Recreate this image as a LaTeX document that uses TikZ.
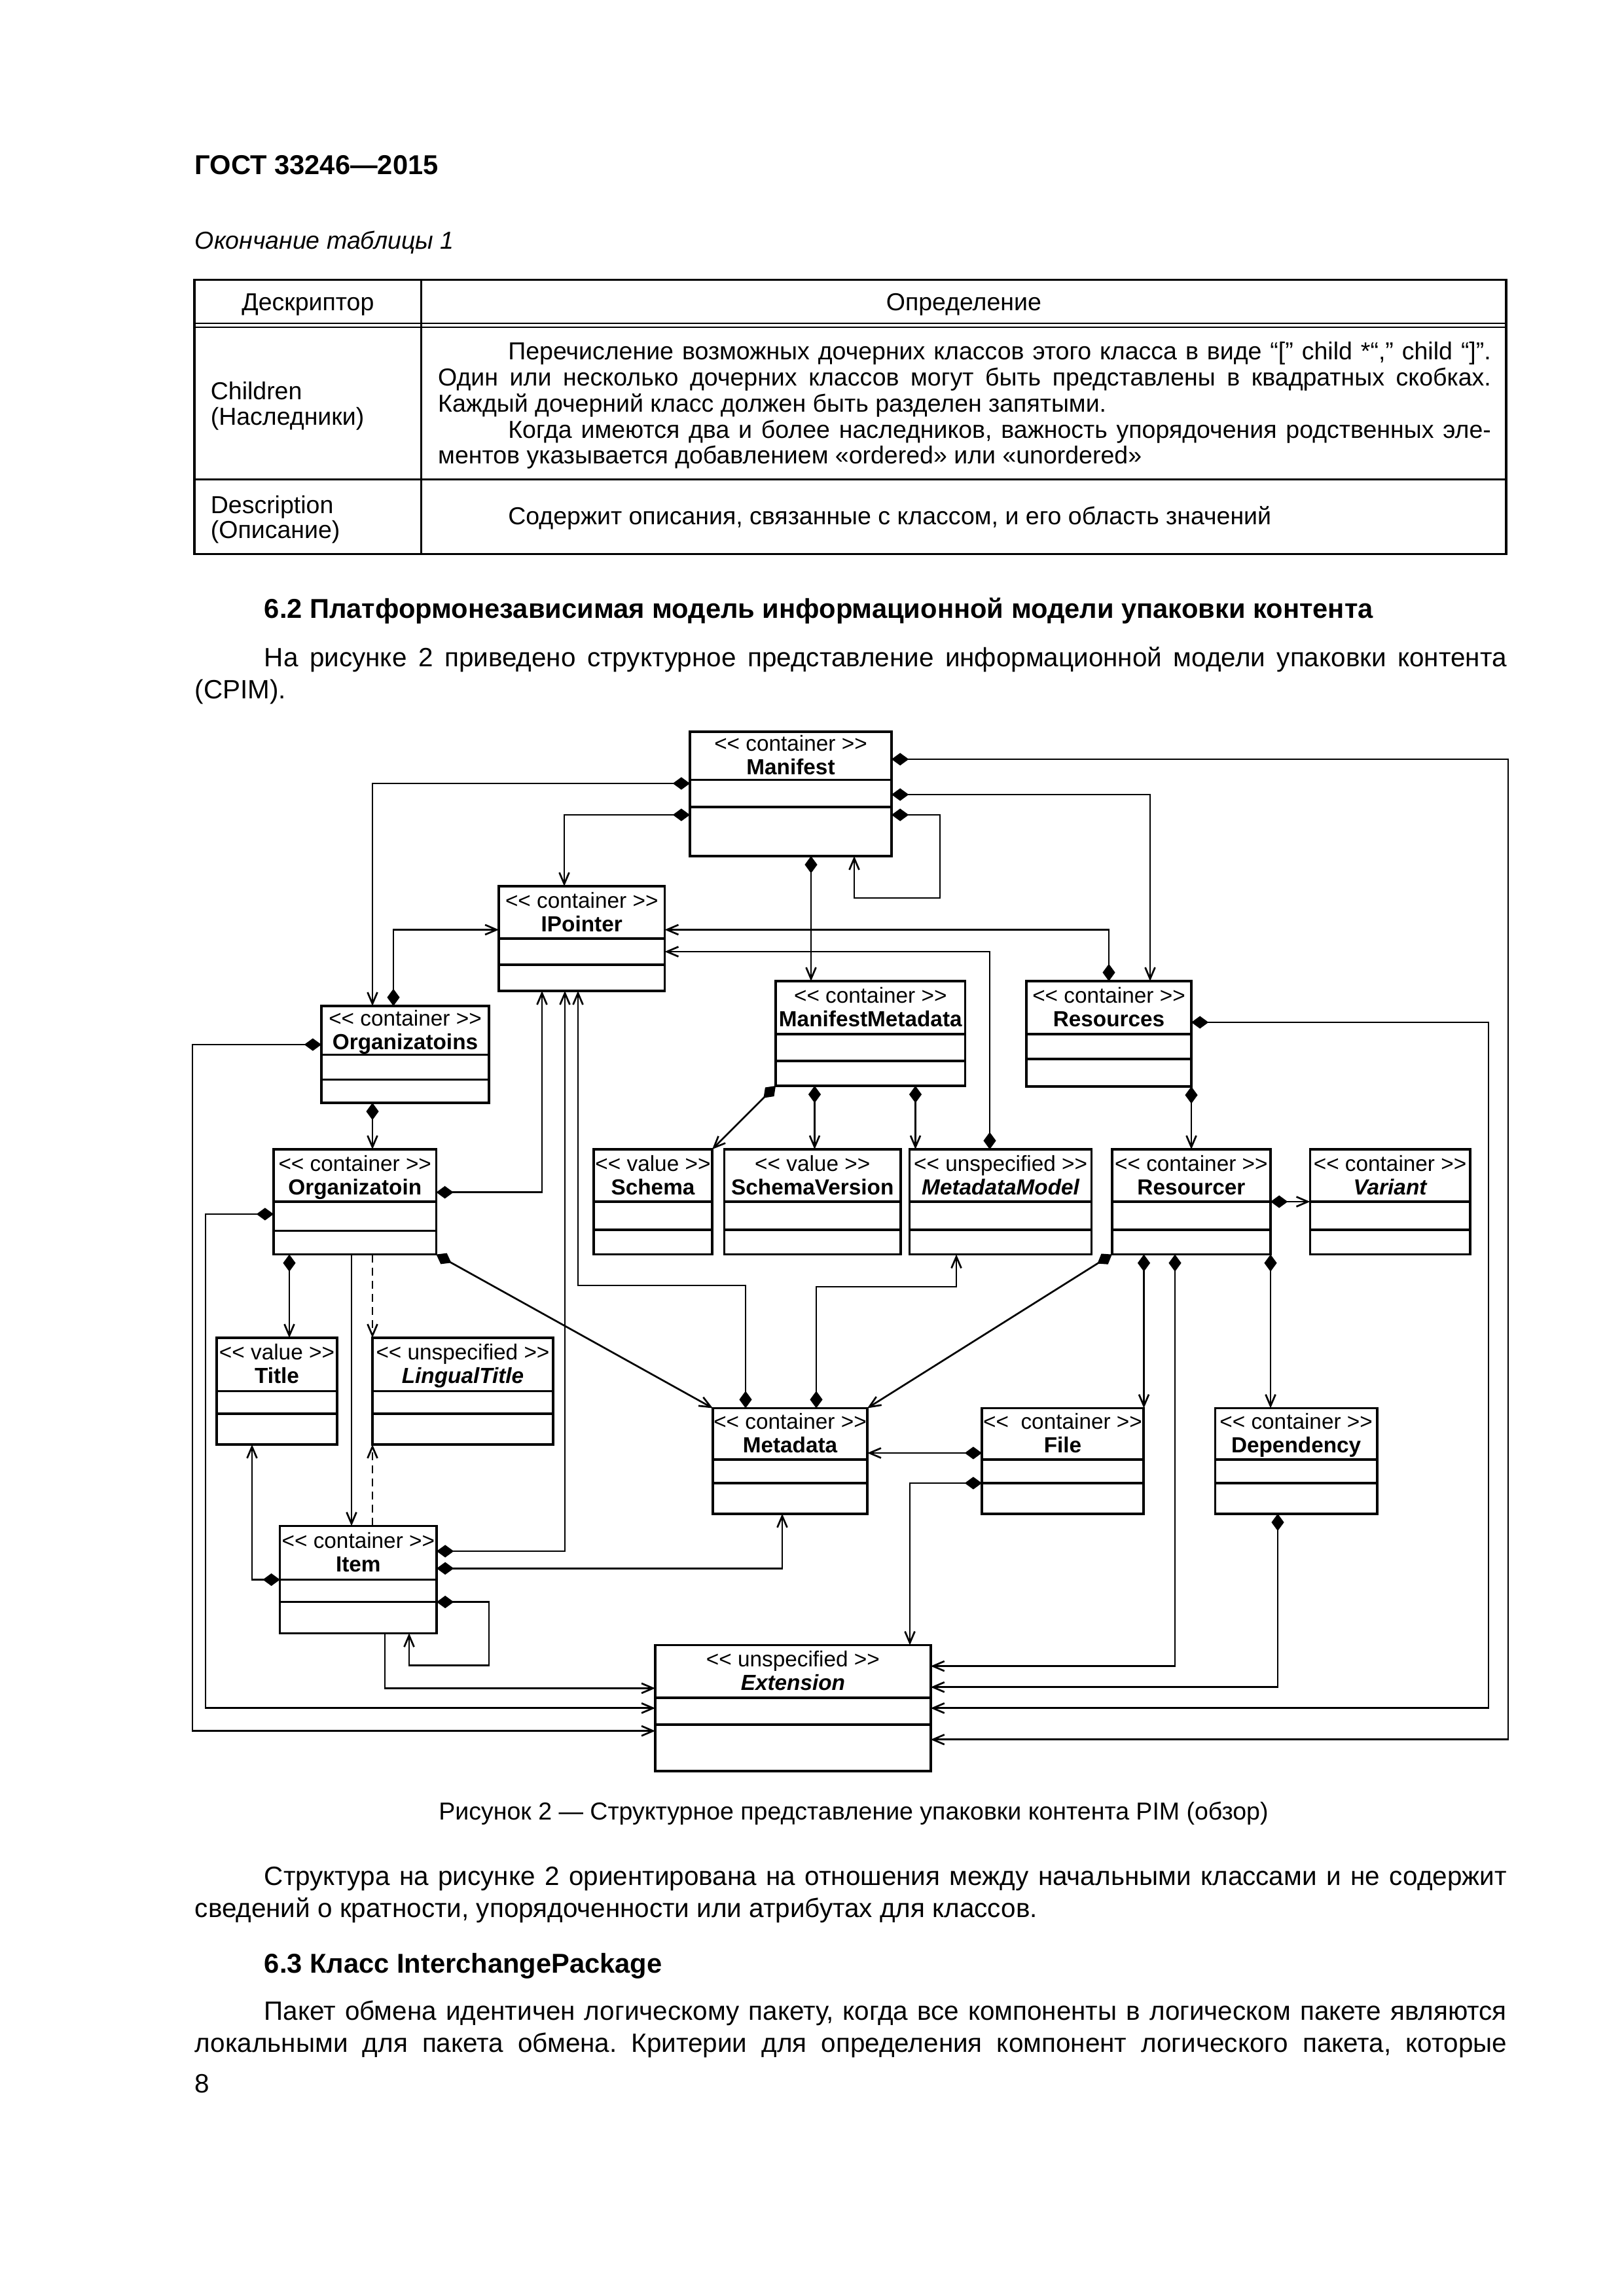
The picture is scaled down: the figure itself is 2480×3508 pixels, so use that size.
\documentclass[tikz,border=0pt]{standalone}
\usepackage{fontspec}
\setmainfont{Liberation Sans}
\usetikzlibrary{arrows.meta,fit}
\frenchspacing
\newcommand\stereotype[1]{<\kern0pt< #1 >\kern0pt>}
\newcommand\umlclass[9]{%
  \node[classbox, fit={(#2,#3) (#4,#5)}] (#1) {};
  \draw[divider] (#2,#6) -- (#4,#6) (#2,#7) -- (#4,#7);
  \node[stereo] (#1-st) at ({(#2+#4)/2},{(#3+#6)/2-7}) {#8};
  \node[cname] (#1-nm) at ({(#2+#4)/2},{(#3+#6)/2+29}) {#9};
}
\begin{document}
\begin{tikzpicture}[x=0.24pt,y=-0.24pt,
  classbox/.style={draw, line width=0.85pt, inner sep=0pt, outer sep=0pt},
  divider/.style={line width=0.85pt},
  conn/.style={line width=0.65pt},
  arr/.style={conn, -{Straight Barb[length=4.2pt,width=3.6pt]}},
  comp/.style={conn, {Diamond[length=6.3pt,width=4.6pt]}-{Straight Barb[length=4.2pt,width=3.6pt]}},
  dsh/.style={arr, dash pattern=on 3pt off 1.8pt},
  stereo/.style={font=\fontsize{8}{9}\selectfont, inner sep=0pt, anchor=base},
  cname/.style={font=\fontsize{8}{9}\selectfont\bfseries, inner sep=0pt, anchor=base},
  bodytext/.style={font=\fontsize{9.7}{11.8}\selectfont, inner sep=0pt, anchor=base west},
  bodybold/.style={font=\fontsize{10}{11.8}\selectfont\bfseries, inner sep=0pt, anchor=base west},
  tabtext/.style={font=\fontsize{9}{10}\selectfont, inner sep=0pt, anchor=base west},
  captext/.style={font=\fontsize{9}{10}\selectfont, inner sep=0pt, anchor=base},
  tabline/.style={line width=0.75pt},
  tabthin/.style={line width=0.45pt}
]
\fill[white] (0,0) rectangle (2480,3508);
\useasboundingbox (0,0) rectangle (2480,3508);

% ---------- page header and table ----------
\node[bodybold] (hdr) at (297,267) {ГОСТ 33246—2015};
\node[font=\fontsize{9}{10}\selectfont\itshape, inner sep=0pt, anchor=base west] (tcap) at (297,381) {Окончание таблицы 1};

\draw[tabline] (297,427.7) rectangle (2301,846.4);
\draw[tabline] (643.8,427.7) -- (643.8,846.4);
\draw[tabthin] (297,493.8) -- (2301,493.8) (297,500.4) -- (2301,500.4);
\draw[tabline] (297,732.6) -- (2301,732.6);

\node[tabtext, anchor=base] (th1) at (470.4,474.5) {Дескриптор};
\node[tabtext, anchor=base] (th2) at (1472.4,474.5) {Определение};
\node[tabtext] (c1a) at (321,610.7) {Children};
\node[tabtext] (c1b) at (321,650) {(Наследники)};
\node[tabtext] (d1a) at (775.5,549.6) {\makebox[360.4pt][s]{Перечисление возможных дочерних классов этого класса в виде “[” child *“,” child “]”.}};
\node[tabtext] (d1b) at (668.4,589.3) {\makebox[386.1pt][s]{Один или несколько дочерних классов могут быть представлены в квадратных скобках.}};
\node[tabtext] (d1c) at (668.4,629.5) {Каждый дочерний класс должен быть разделен запятыми.};
\node[tabtext] (d1d) at (775.5,669.5) {\makebox[360.4pt][s]{Когда имеются два и более наследников, важность упорядочения родственных эле-}};
\node[tabtext] (d1e) at (668.4,709) {ментов указывается добавлением «ordered» или «unordered»};
\node[tabtext] (c2a) at (321,784.8) {Description};
\node[tabtext] (c2b) at (321,822.8) {(Описание)};
\node[tabtext] (d2a) at (775.5,801.5) {Содержит описания, связанные с классом, и его область значений};

% ---------- text before figure ----------
\node[bodybold] (h62) at (403,944) {6.2 Платформонезависимая модель информационной модели упаковки контента};
\node[bodytext] (p1a) at (403,1018.5) {\makebox[455.5pt][s]{На рисунке 2 приведено структурное представление информационной модели упаковки контента}};
\node[bodytext] (p1b) at (297,1067.6) {(CPIM).};

% ---------- classes ----------
\umlclass{Manifest}{1054}{1118}{1362}{1308}{1191.5}{1233}{\stereotype{container}}{Manifest}
\umlclass{IPointer}{762}{1354}{1015.5}{1514}{1434}{1474}{\stereotype{container}}{IPointer}
\umlclass{Organizatoins}{491}{1537}{747}{1685}{1611.6}{1649.6}{\stereotype{container}}{Organizatoins}
\umlclass{ManifestMetadata}{1185}{1499}{1474.6}{1659}{1580}{1621}{\stereotype{container}}{ManifestMetadata}
\umlclass{Resources}{1568}{1499}{1820}{1660}{1580}{1618}{\stereotype{container}}{Resources}
\umlclass{Organizatoin}{418}{1756}{666.5}{1916.6}{1836}{1880.6}{\stereotype{container}}{Organizatoin}
\umlclass{Schema}{907}{1756}{1088}{1916.6}{1836}{1879}{\stereotype{value}}{Schema}
\umlclass{SchemaVersion}{1106.5}{1756}{1376}{1916.6}{1836}{1879}{\stereotype{value}}{SchemaVersion}
\umlclass{MetadataModel}{1389.5}{1756}{1667.7}{1916.6}{1836}{1879}{\stereotype{unspecified}}{\itshape MetadataModel}
\umlclass{Resourcer}{1698.7}{1756}{1941}{1916.6}{1836}{1879}{\stereotype{container}}{Resourcer}
\umlclass{Variant}{2001.4}{1756}{2245.7}{1916.6}{1836}{1879}{\stereotype{container}}{\itshape Variant}
\umlclass{Title}{331}{2044}{515}{2207}{2125.5}{2160}{\stereotype{value}}{Title}
\umlclass{LingualTitle}{569}{2044}{845}{2207}{2125.5}{2160}{\stereotype{unspecified}}{\itshape LingualTitle}
\umlclass{Metadata}{1089}{2151.5}{1325}{2312.8}{2230}{2266}{\stereotype{container}}{Metadata}
\umlclass{File}{1500}{2151.5}{1747}{2312.8}{2230}{2266}{\stereotype{\ container}}{File}
\umlclass{Dependency}{1856.5}{2151.5}{2103.7}{2312.8}{2230}{2266}{\stereotype{container}}{Dependency}
\umlclass{Item}{427.7}{2331.4}{667}{2495.3}{2413.5}{2447.6}{\stereotype{container}}{Item}
\umlclass{Extension}{1001}{2513.5}{1421.8}{2706}{2593.9}{2635.1}{\stereotype{unspecified}}{\itshape Extension}

% ---------- connectors ----------
% Manifest
\draw[comp] (Manifest.west |- 0,1197) -| (Organizatoins.north -| 569,0);
\draw[comp] (Manifest.west |- 0,1245) -| (IPointer.north -| 862,0);
\draw[comp] (Manifest.east |- 0,1160) -| (2304,2657.8) -- (Extension.east |- 0,2657.8);
\draw[comp] (Manifest.east |- 0,1214) -| (Resources.north -| 1757,0);
\draw[comp] (Manifest.east |- 0,1245) -| (1436,1372) -| (Manifest.south -| 1305,0);
\draw[comp] (Manifest.south -| 1239,0) -- (ManifestMetadata.north -| 1239,0);
% Organizatoins
\draw[comp] (Organizatoins.north -| 601,0) |- (IPointer.west |- 0,1420.5);
\draw[comp] (Organizatoins.west |- 0,1596) -| (294,2644.6) -- (Extension.west |- 0,2644.6);
\draw[comp] (Organizatoins.south -| 569,0) -- (Organizatoin.north -| 569,0);
% Resources
\draw[comp] (Resources.north -| 1694,0) |- (IPointer.east |- 0,1420.5);
\draw[comp] (Resources.east |- 0,1562) -| (2274,2609.8) -- (Extension.east |- 0,2609.8);
\draw[comp] (Resources.south -| 1820,0) -- (Resourcer.north -| 1820,0);
% MetadataModel
\draw[comp] (MetadataModel.north -| 1512,0) |- (IPointer.east |- 0,1454);
% ManifestMetadata
\draw[comp] (ManifestMetadata.south west) -- (Schema.north east);
\draw[comp] (ManifestMetadata.south -| 1244.5,0) -- (SchemaVersion.north -| 1244.5,0);
\draw[comp] (ManifestMetadata.south -| 1398.5,0) -- (MetadataModel.north -| 1398.5,0);
% Organizatoin
\draw[comp] (Organizatoin.east |- 0,1821.7) -| (IPointer.south -| 828,0);
\draw[comp] (Organizatoin.west |- 0,1855) -| (314,2609.8) -- (Extension.west |- 0,2609.8);
\draw[comp] (Organizatoin.south -| 442,0) -- (Title.north -| 442,0);
\draw[arr] (Organizatoin.south -| 537,0) -- (Item.north -| 537,0);
\draw[dsh] (Organizatoin.south -| 569,0) -- (LingualTitle.north -| 569,0);
\draw[dsh] (Item.north -| 569,0) -- (LingualTitle.south -| 569,0);
\draw[comp] (Organizatoin.south east) -- (Metadata.north west);
% Metadata
\draw[comp] (Metadata.north -| 1139,0) |- (883,1964) -- (IPointer.south -| 883,0);
\draw[comp] (Metadata.north -| 1247,0) |- (1461,1966) -- (MetadataModel.south -| 1461,0);
% Resourcer
\draw[comp] (Resourcer.east |- 0,1836) -- (Variant.west |- 0,1836);
\draw[comp] (Resourcer.south west) -- (Metadata.north east);
\draw[comp] (Resourcer.south -| 1747.5,0) -- (File.north -| 1747.5,0);
\draw[comp] (Resourcer.south -| 1795,0) |- (Extension.east |- 0,2545.6);
\draw[comp] (Resourcer.south east) -- (Dependency.north -| Resourcer.east);
% File
\draw[comp] (File.west |- 0,2220) -- (Metadata.east |- 0,2220);
\draw[comp] (File.west |- 0,2266) -| (Extension.north -| 1390,0);
% Dependency
\draw[comp] (Dependency.south -| 1952,0) |- (Extension.east |- 0,2577.7);
% Item
\draw[comp] (Item.east |- 0,2370) -| (IPointer.south -| 863,0);
\draw[comp] (Item.east |- 0,2396.3) -| (Metadata.south -| 1195,0);
\draw[comp] (Item.east |- 0,2447.6) -| (747,2544.6) -| (Item.south -| 625,0);
\draw[comp] (Item.west |- 0,2413.5) -| (Title.south -| 385,0);
\draw[arr] (Item.south -| 588,0) |- (Extension.west |- 0,2579.4);

% ---------- text after figure ----------
\node[captext] (figcap) at (1304,2780) {Рисунок 2 — Структурное представление упаковки контента PIM (обзор)};
\node[bodytext] (p2a) at (403,2880.8) {\makebox[455.5pt][s]{Структура на рисунке 2 ориентирована на отношения между начальными классами и не содержит}};
\node[bodytext] (p2b) at (297,2929.9) {сведений о кратности, упорядоченности или атрибутах для классов.};
\node[bodybold] (h63) at (403,3014.7) {6.3 Класс InterchangePackage};
\node[bodytext] (p3a) at (403,3086) {\makebox[455.5pt][s]{Пакет обмена идентичен логическому пакету, когда все компоненты в логическом пакете являются}};
\node[bodytext] (p3b) at (297,3135) {\makebox[481pt][s]{локальными для пакета обмена. Критерии для определения компонент логического пакета, которые}};
\node[bodytext] (pgno) at (297,3197.8) {8};
\end{tikzpicture}
\end{document}
